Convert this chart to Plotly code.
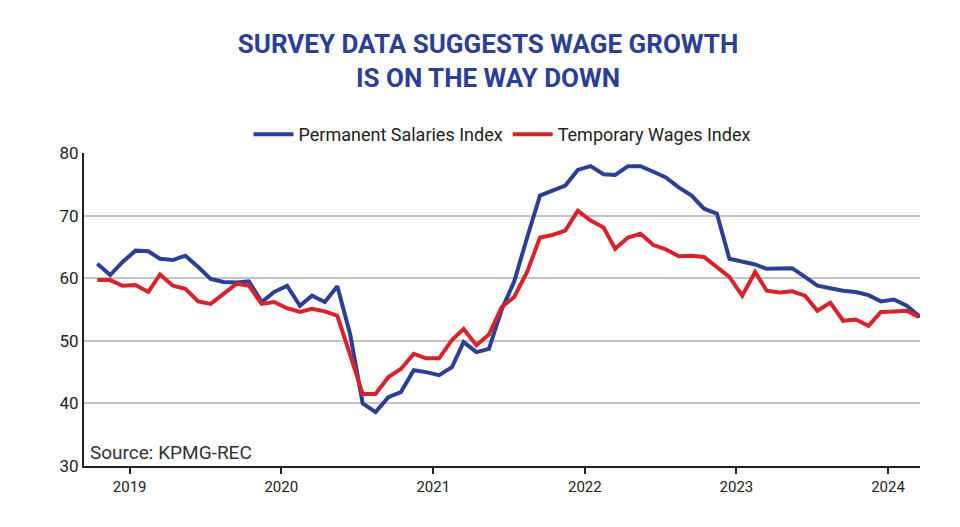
import pandas as pd
import plotly.graph_objects as go

# monthly index readings, mid-Sep 2018 .. Mar 2024
months = pd.date_range("2018-09-15", periods=67, freq="MS") + pd.Timedelta(days=14)

permanent = [62.3, 60.5, 62.6, 64.4, 64.3, 63.1, 62.9, 63.6, 61.8, 59.9,
             59.4, 59.3, 59.5, 56.2, 57.8, 58.8, 55.6, 57.2, 56.2, 58.7,
             51.0, 40.0, 38.6, 41.0, 41.8, 45.3, 45.0, 44.5, 45.8, 49.8,
             48.2, 48.7, 55.0, 59.5, 66.5, 73.2, 74.0, 74.8, 77.3, 77.9,
             76.6, 76.5, 77.9, 77.9, 77.0, 76.1, 74.5, 73.2, 71.1, 70.3,
             63.1, 62.6, 62.2, 61.5, 61.6, 61.6, 60.2, 58.8, 58.4, 58.0,
             57.8, 57.3, 56.3, 56.6, 55.6, 54.0, 53.5]
temporary = [59.7, 59.7, 58.8, 58.9, 57.8, 60.6, 58.8, 58.3, 56.3, 55.9,
             57.5, 59.1, 58.8, 55.9, 56.2, 55.2, 54.6, 55.1, 54.7, 54.0,
             47.7, 41.5, 41.5, 44.2, 45.5, 47.9, 47.2, 47.2, 50.1, 51.9,
             49.3, 51.0, 55.4, 57.0, 61.0, 66.5, 66.9, 67.6, 70.8, 69.2,
             68.1, 64.7, 66.5, 67.1, 65.3, 64.6, 63.5, 63.6, 63.4, 61.8,
             60.2, 57.2, 61.0, 58.0, 57.7, 57.9, 57.2, 54.8, 56.1, 53.2,
             53.4, 52.4, 54.6, 54.7, 54.8, 53.8]

BLUE = "#2b3f96"
RED = "#d8232a"

fig = go.Figure()
fig.add_trace(go.Scatter(x=months, y=permanent, mode="lines", name="Permanent Salaries Index",
                         line=dict(color=BLUE, width=4)))
fig.add_trace(go.Scatter(x=months[:len(temporary)], y=temporary, mode="lines",
                         name="Temporary Wages Index", line=dict(color=RED, width=4)))

fig.update_layout(
    width=960, height=527,
    paper_bgcolor="white", plot_bgcolor="white",
    margin=dict(l=76, r=48, t=145, b=69, autoexpand=False),
    font=dict(family="Roboto", size=17, color="#222"),
    title=dict(text="<b>SURVEY DATA SUGGESTS WAGE GROWTH<br>IS ON THE WAY DOWN</b>",
               x=0.5, xanchor="center", y=0.915, yanchor="top",
               font=dict(size=26, color=BLUE, family="Roboto")),
    legend=dict(orientation="h", x=0.5, xanchor="center", y=1.0, yanchor="bottom",
                font=dict(size=18), itemwidth=40, tracegroupgap=0),
    showlegend=True,
)
fig.update_xaxes(
    range=["2018-09-13", "2024-03-18"],
    tickvals=pd.to_datetime(["2019-01-01", "2020-01-01", "2021-01-01",
                             "2022-01-01", "2023-01-01", "2024-01-01"]),
    ticktext=["2019", "2020", "2021", "2022", "2023", "2024"],
    ticks="outside", ticklen=6, tickwidth=2, tickcolor="#222",
    showline=True, linecolor="#222", linewidth=2, showgrid=False,
    tickfont=dict(size=15), automargin=False,
)
fig.update_yaxes(
    range=[30, 80], dtick=10, showgrid=True, gridcolor="#c4c4c4", gridwidth=2,
    showline=True, linecolor="#222", linewidth=2, ticks="", zeroline=False,
    tickfont=dict(size=17), automargin=False,
)
fig.add_annotation(text="Source: KPMG-REC", xref="paper", yref="paper", x=0.005, y=0.0,
                   xanchor="left", yanchor="bottom", showarrow=False,
                   font=dict(size=19, color="#333"))

fig.write_html("out.html")
